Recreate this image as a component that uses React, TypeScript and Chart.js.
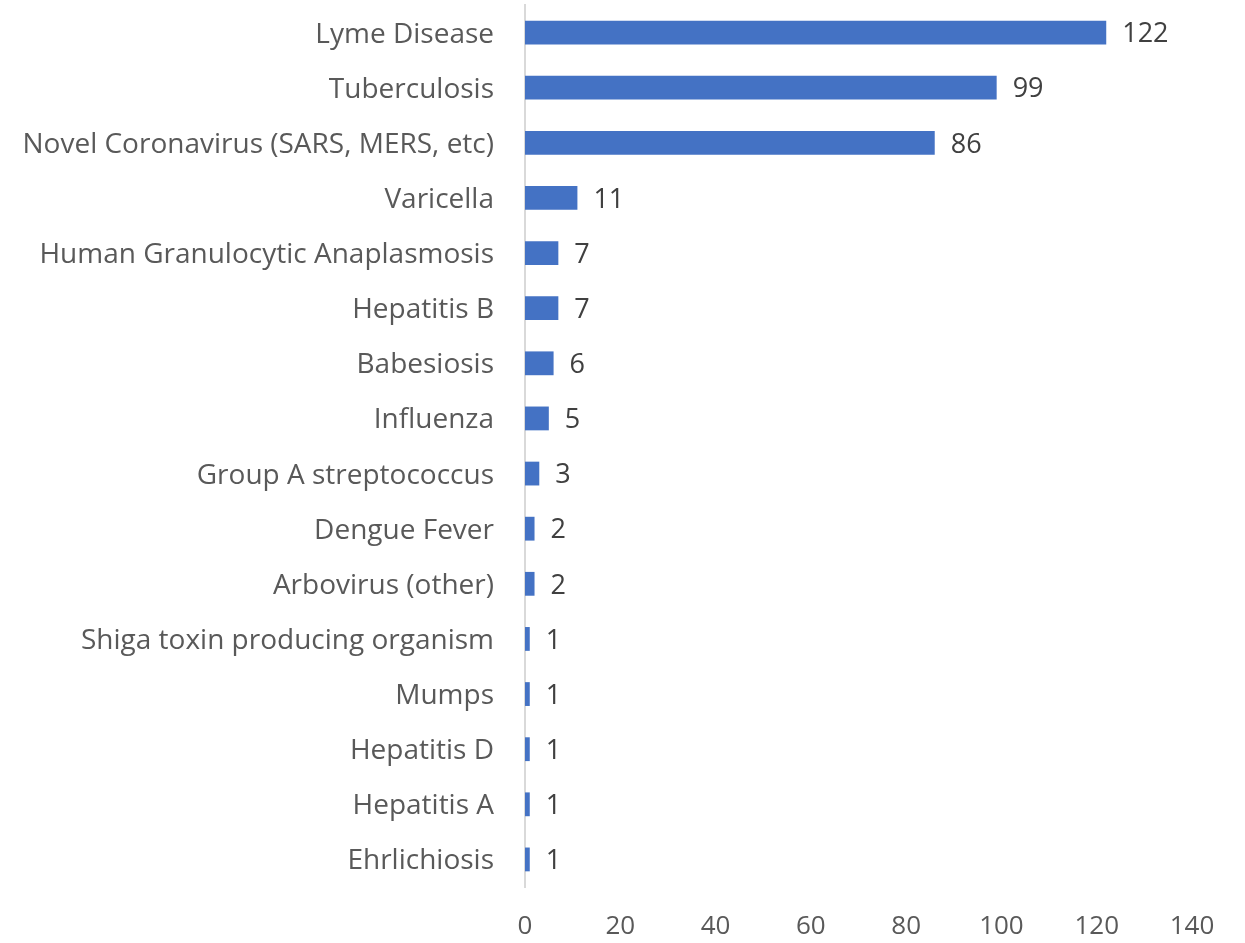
import React, { useEffect, useRef } from "react";
import { Chart, registerables } from "chart.js";

Chart.register(...registerables);

const diseases = [
  "Lyme Disease",
  "Tuberculosis",
  "Novel Coronavirus (SARS, MERS, etc)",
  "Varicella",
  "Human Granulocytic Anaplasmosis",
  "Hepatitis B",
  "Babesiosis",
  "Influenza",
  "Group A streptococcus",
  "Dengue Fever",
  "Arbovirus (other)",
  "Shiga toxin producing organism",
  "Mumps",
  "Hepatitis D",
  "Hepatitis A",
  "Ehrlichiosis",
];

const caseCounts = [122, 99, 86, 11, 7, 7, 6, 5, 3, 2, 2, 1, 1, 1, 1, 1];

const xTickMin = 0;
const xTickMax = 140;
const xTickStep = 20;

const FONT = "'Open Sans', 'Noto Sans', sans-serif";

// Writes each bar's count just past its right end
const valueLabels = {
  id: "valueLabels",
  afterDatasetsDraw(chart: any) {
    const { ctx } = chart;
    const meta = chart.getDatasetMeta(0);
    const data = chart.data.datasets[0].data as number[];
    ctx.save();
    ctx.font = `27px ${FONT}`;
    ctx.fillStyle = "#404040";
    ctx.textAlign = "left";
    ctx.textBaseline = "middle";
    meta.data.forEach((bar: any, i: number) => {
      ctx.fillText(String(data[i]), bar.x + 16, bar.y + 2);
    });
    ctx.restore();
  },
};

export default function App() {
  const canvasRef = useRef<HTMLCanvasElement | null>(null);

  useEffect(() => {
    if (!canvasRef.current) return;
    const chart = new Chart(canvasRef.current, {
      type: "bar",
      data: {
        labels: diseases,
        datasets: [
          {
            data: caseCounts,
            backgroundColor: "#4472C4",
            borderWidth: 0,
            barPercentage: 0.9,
            categoryPercentage: 0.48,
          },
        ],
      },
      options: {
        indexAxis: "y",
        animation: false,
        responsive: false,
        maintainAspectRatio: false,
        layout: { padding: { top: 5, right: 53, left: 0, bottom: 0 } },
        plugins: {
          legend: { display: false },
          tooltip: { enabled: false },
        },
        scales: {
          x: {
            min: xTickMin,
            max: xTickMax,
            ticks: {
              stepSize: xTickStep,
              color: "#595959",
              font: { family: FONT, size: 26 },
              padding: 24,
            },
            grid: { display: false, drawTicks: false },
            border: { display: false },
            afterFit(scale: any) {
              scale.height = 56;
              scale.paddingLeft = 0;
              scale.paddingRight = 0;
            },
          },
          y: {
            ticks: {
              color: "#595959",
              font: { family: FONT, size: 28 },
              padding: 31,
              labelOffset: 2,
              autoSkip: false,
            },
            grid: { display: false, drawTicks: false },
            border: { display: true, color: "#D9D9D9", width: 2 },
            afterFit(scale: any) {
              scale.width = 525;
              scale.paddingTop = 0;
              scale.paddingBottom = 0;
            },
          },
        },
      },
      plugins: [valueLabels],
    });
    return () => chart.destroy();
  }, []);

  return (
    <div style={{ position: "fixed", left: 0, top: 0, width: 1245, height: 943, background: "#fff" }}>
      <canvas ref={canvasRef} width={1245} height={943} />
    </div>
  );
}
